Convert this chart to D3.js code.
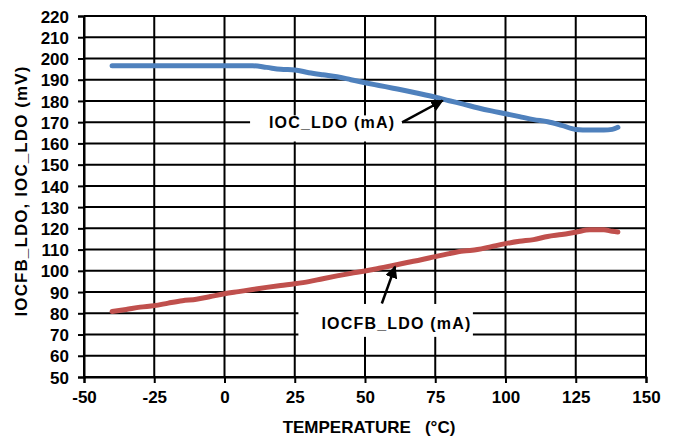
<!DOCTYPE html>
<html><head><meta charset="utf-8">
<script src="https://cdn.jsdelivr.net/npm/d3@7"></script>
<style>
body{margin:0;background:#fff;}
text{font-family:"Liberation Sans",Arial,sans-serif;font-weight:bold;fill:#000;}
</style></head>
<body><svg id="c" width="676" height="436"></svg>
<script>
const temps = [-40,-35,-30,-25,-20,-15,-10,-5,0,5,10,15,20,25,30,35,40,45,50,55,60,65,70,75,80,85,90,95,100,105,110,115,120,125,130,135,138,140];
const iocLdo = [196.6,196.6,196.6,196.6,196.6,196.6,196.6,196.6,196.6,196.6,196.6,195.8,194.9,194.6,193.3,192.3,191.4,190.0,188.6,187.3,186.0,184.7,183.3,181.8,180.1,178.5,176.8,175.3,174.0,172.6,171.2,170.2,168.5,166.6,166.3,166.3,166.6,167.6];
const iocfbLdo = [80.8,81.8,82.9,83.6,84.8,85.9,86.6,87.9,89.2,90.2,91.2,92.2,93.1,93.9,94.9,96.3,97.6,98.8,99.9,101.2,102.5,103.9,105.2,106.7,108.1,109.3,110.0,111.4,112.8,113.9,114.7,116.2,117.1,118.2,119.3,119.3,118.6,118.3];
const xTicks = [-50,-25,0,25,50,75,100,125,150];
const yTicks = [50,60,70,80,90,100,110,120,130,140,150,160,170,180,190,200,210,220];
const xTitle = "TEMPERATURE   (°C)";
const yTitle = "IOCFB_LDO, IOC_LDO (mV)";
const labelIoc = "IOC_LDO (mA)";
const labelIocfb = "IOCFB_LDO (mA)";
// annotation anchors in data units: [text x, text y], box [x0,x1,y0,y1], arrow [from x,y, to x,y]
const annIoc = {text:[38.3,167.2], box:[9.1,63.2,173.2,160.9], arrow:[63.2,169.9,77.6,180.2]};
const annIocfb = {text:[61.2,72.7], box:[26.3,88.4,84.4,68.9], arrow:[56,84.6,60.7,102]};

const svg = d3.select("#c");
const x = d3.scaleLinear().domain([-50,150]).range([84,646]);
const y = d3.scaleLinear().domain([50,220]).range([377,16]);
const FONT = "'Liberation Sans',Arial,sans-serif";

// grid
const g = svg.append("g");
g.selectAll("line.h").data(yTicks).join("line")
 .attr("x1",x(-50)).attr("x2",x(150)).attr("y1",d=>y(d)).attr("y2",d=>y(d))
 .attr("stroke","#000").attr("stroke-width",2);
g.selectAll("line.v").data(xTicks).join("line")
 .attr("y1",y(50)).attr("y2",y(220)).attr("x1",d=>x(d)).attr("x2",d=>x(d))
 .attr("stroke","#000").attr("stroke-width",2);

// axes
const ya = svg.append("g").attr("transform",`translate(${x(-50)},0)`)
 .call(d3.axisLeft(y).tickValues(yTicks).tickFormat(d=>String(d)).tickSize(6).tickPadding(9));
const xa = svg.append("g").attr("transform",`translate(0,${y(50)})`)
 .call(d3.axisBottom(x).tickValues(xTicks).tickFormat(d=>String(d)).tickSize(6).tickPadding(8));
[ya,xa].forEach(a=>{
  a.selectAll("path,line").attr("stroke","#000").attr("stroke-width",2);
  a.selectAll("text").style("font-size","17px").style("font-family",FONT).style("font-weight","bold").attr("fill","#000");
});
ya.selectAll("text").attr("dy","0.36em");

// annotation boxes
function box(a){
  svg.append("rect").attr("x",x(a.box[0])).attr("y",y(a.box[2]))
   .attr("width",x(a.box[1])-x(a.box[0])).attr("height",y(a.box[3])-y(a.box[2]))
   .attr("fill","#fff");
}
box(annIoc); box(annIocfb);

// data lines
const line = d3.line().x((d,i)=>x(temps[i])).y(d=>y(d)).curve(d3.curveMonotoneX);
svg.append("path").datum(iocLdo).attr("d",line).attr("fill","none")
 .attr("stroke","#4f81bd").attr("stroke-width",5).attr("stroke-linecap","round").attr("stroke-linejoin","round");
svg.append("path").datum(iocfbLdo).attr("d",line).attr("fill","none")
 .attr("stroke","#c0504d").attr("stroke-width",5).attr("stroke-linecap","round").attr("stroke-linejoin","round");

// arrows
svg.append("defs").append("marker").attr("id","ah").attr("viewBox","0 0 10 10")
 .attr("refX",9).attr("refY",5).attr("markerWidth",5).attr("markerHeight",5).attr("orient","auto")
 .append("path").attr("d","M0,0 L10,5 L0,10 Z").attr("fill","#000");
function arrow(a){
  svg.append("line").attr("x1",x(a.arrow[0])).attr("y1",y(a.arrow[1]))
   .attr("x2",x(a.arrow[2])).attr("y2",y(a.arrow[3]))
   .attr("stroke","#000").attr("stroke-width",2.5).attr("marker-end","url(#ah)");
}
arrow(annIoc); arrow(annIocfb);

// annotation texts
function label(a,t){
  svg.append("text").attr("x",x(a.text[0])).attr("y",y(a.text[1]))
   .attr("text-anchor","middle").style("font-size","16px").style("letter-spacing","1.2px").text(t);
}
label(annIoc,labelIoc); label(annIocfb,labelIocfb);

// titles
svg.append("text").attr("x",369).attr("y",433).attr("text-anchor","middle")
 .style("font-size","17px").style("white-space","pre").text(xTitle);
svg.append("text").attr("transform","translate(27,191) rotate(-90)").attr("text-anchor","middle")
 .style("font-size","17px").style("letter-spacing","1.1px").text(yTitle);
</script></body></html>
